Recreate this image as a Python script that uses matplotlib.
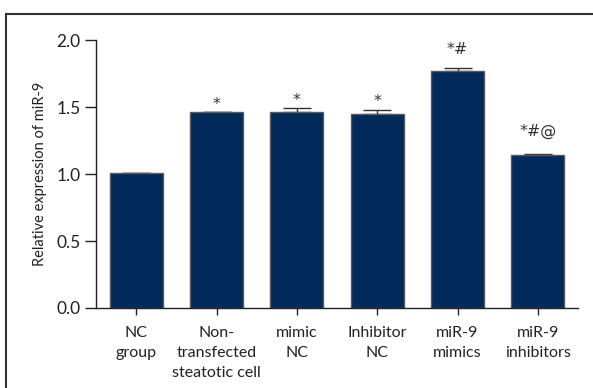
import matplotlib.pyplot as plt
from matplotlib.lines import Line2D

plt.rcParams['font.family'] = ['Lato', 'DejaVu Sans']

groups = ["NC\ngroup", "Non-\ntransfected\nsteatotic cell", "mimic\nNC",
          "Inhibitor\nNC", "miR-9\nmimics", "miR-9\ninhibitors"]
values = [1.01, 1.46, 1.46, 1.45, 1.77, 1.14]
errors = [0.0, 0.005, 0.03, 0.03, 0.02, 0.01]
marks = ["", "*", "*", "*", "*#", "*#@"]

# distance from error cap to the centre of each significance mark, in data units
mark_gap = [0.0, 0.055, 0.055, 0.06, 0.14, 0.165]

fig = plt.figure(figsize=(5.93, 3.88), dpi=100)
ax = fig.add_axes([96 / 593, 80 / 388, 482 / 593, 268 / 388])

x = list(range(len(groups)))
ax.errorbar(x, values, yerr=[[0] * len(errors), errors], fmt="none", ecolor="#333333",
            elinewidth=1.0, capsize=10, capthick=1.0, zorder=1)
ax.bar(x, values, width=0.66, color="#022a5a", edgecolor="#5a5a5a", linewidth=1.0, zorder=2)

for i, (v, e, m) in enumerate(zip(values, errors, marks)):
    if m:
        ax.text(i, v + e + mark_gap[i], m, ha="center", va="center", fontsize=11.5,
                color="#333333", family=["DejaVu Sans"])

ax.set_xlim(-0.5, 5.5)
ax.set_ylim(0, 2.0)
ax.set_yticks([0.0, 0.5, 1.0, 1.5, 2.0])
ax.set_yticklabels(["0.0", "0.5", "1.0", "1.5", "2.0"])
ax.set_xticks(x)
ax.set_xticklabels(groups, fontsize=11.5, linespacing=1.55, color="#222222")
ax.tick_params(axis="y", labelsize=12.5, length=8, width=1.0, color="#222222",
               labelcolor="#222222", pad=3)
ax.tick_params(axis="x", length=5, width=1.0, color="#222222", pad=8)
ax.set_ylabel("Relative expression of miR-9", fontsize=10.5, labelpad=7, color="#222222")

ax.spines["top"].set_visible(False)
ax.spines["right"].set_visible(False)
for s in ("left", "bottom"):
    ax.spines[s].set_linewidth(1.0)
    ax.spines[s].set_color("#222222")

# outer frame, left and top edges only
fig.add_artist(Line2D([5.5 / 593, 5.5 / 593], [0, 1 - 13.5 / 388], color="#333333", lw=1.5,
                      transform=fig.transFigure))
fig.add_artist(Line2D([5.5 / 593, 1], [1 - 13.5 / 388, 1 - 13.5 / 388], color="#333333", lw=1.5,
                      transform=fig.transFigure))

fig.savefig("out.png", dpi=100)
